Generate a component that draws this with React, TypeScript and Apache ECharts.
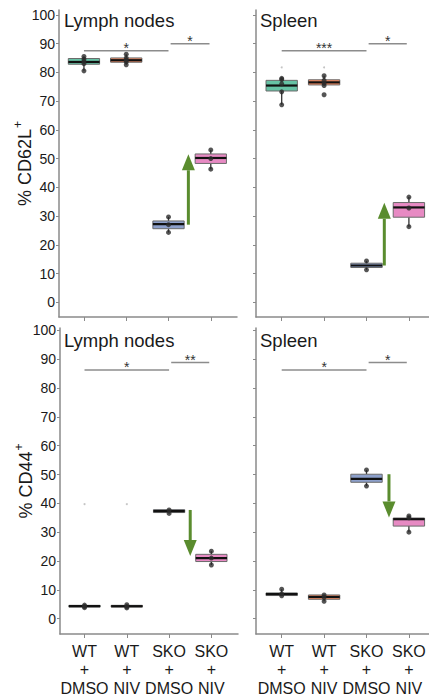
import React, { useEffect, useRef } from 'react';
import * as echarts from 'echarts';

// ---------- data ----------
const groups = ['WT\n+\nDMSO', 'WT\n+\nNIV', 'SKO\n+\nDMSO', 'SKO\n+\nNIV'];
const groupIdx = [0, 1, 2, 3];
const yTicks = [0, 10, 20, 30, 40, 50, 60, 70, 80, 90, 100];
const palette = ['#66c2a5', '#fc8d62', '#8da0cb', '#e78ac3'];

// box stats: [whiskerLow, Q1, median, Q3, whiskerHigh]
const cd62lLymphBoxes = [
  [80.5, 82.8, 83.6, 84.8, 85.5],
  [82.6, 83.5, 84.2, 85.0, 86.3],
  [24.3, 25.6, 27.2, 28.3, 29.7],
  [46.3, 48.3, 50.2, 51.6, 53.0],
];
const cd62lLymphPoints = [
  [85.5, 84.6, 83.8, 83.0, 80.5],
  [86.3, 85.0, 84.2, 83.6, 82.6],
  [29.7, 27.0, 24.3],
  [53.0, 50.0, 46.3],
];
const cd62lSpleenBoxes = [
  [68.7, 73.5, 75.4, 77.2, 77.9],
  [75.6, 75.6, 76.5, 77.4, 78.8],
  [11.3, 12.1, 12.8, 13.6, 14.4],
  [26.3, 29.6, 33.0, 34.7, 36.6],
];
const cd62lSpleenPoints = [
  [77.9, 77.5, 76.0, 73.2, 68.7],
  [78.8, 77.2, 76.2, 75.4, 72.2],
  [14.4, 11.3],
  [36.6, 32.8, 26.3],
];
const cd44LymphBoxes = [
  [3.8, 4.0, 4.3, 4.6, 4.8],
  [3.7, 4.0, 4.3, 4.6, 4.9],
  [36.4, 36.8, 37.3, 37.8, 38.0],
  [18.6, 19.8, 21.0, 22.3, 23.4],
];
const cd44LymphPoints = [
  [4.7, 4.2, 3.8],
  [4.8, 4.1, 3.7],
  [37.7, 36.5],
  [23.4, 21.0, 18.6],
];
const cd44SpleenBoxes = [
  [7.8, 8.0, 8.5, 8.9, 10.2],
  [6.0, 6.7, 7.5, 8.2, 8.3],
  [46.0, 47.3, 48.5, 50.1, 51.6],
  [30.0, 32.1, 34.5, 34.9, 35.6],
];
const cd44SpleenPoints = [
  [10.2, 8.6, 7.9],
  [8.2, 7.4, 6.0],
  [51.6, 46.0],
  [35.6, 35.0, 30.0],
];
// faint stray dots: [group, value]
const cd62lSpleenFaint = [[0, 81.7], [1, 81.7]];
const cd44LymphFaint = [[0, 39.7], [1, 39.7]];

// significance brackets: [fromGroup, toGroup, value, label]
const cd62lLymphSig = [[0, 2, 87.5, '*'], [2.05, 2.97, 89.9, '*']];
const cd62lSpleenSig = [[0, 2, 87.5, '***'], [2.05, 2.95, 89.9, '*']];
const cd44LymphSig = [[0, 2, 86.3, '*'], [2.05, 2.95, 88.9, '**']];
const cd44SpleenSig = [[0, 2, 86.3, '*'], [2.05, 2.95, 88.9, '*']];

// change arrows: [position, fromValue, toValue]
const cd62lLymphArrow = [[2.47, 27.0, 51.5]];
const cd62lSpleenArrow = [[2.42, 12.8, 34.6]];
const cd44LymphArrow = [[2.5, 37.7, 21.7]];
const cd44SpleenArrow = [[2.53, 50.1, 35.1]];

const FONT = '"Liberation Sans", Arial, sans-serif';

const panels = [
  { title: 'Lymph nodes', yName: '{m|% CD62L}{s|+}', boxes: cd62lLymphBoxes, points: cd62lLymphPoints, faint: [], sig: cd62lLymphSig, arrow: cd62lLymphArrow },
  { title: 'Spleen', yName: '', boxes: cd62lSpleenBoxes, points: cd62lSpleenPoints, faint: cd62lSpleenFaint, sig: cd62lSpleenSig, arrow: cd62lSpleenArrow },
  { title: 'Lymph nodes', yName: '{m|% CD44}{s|+}', boxes: cd44LymphBoxes, points: cd44LymphPoints, faint: cd44LymphFaint, sig: cd44LymphSig, arrow: cd44LymphArrow },
  { title: 'Spleen', yName: '', boxes: cd44SpleenBoxes, points: cd44SpleenPoints, faint: [], sig: cd44SpleenSig, arrow: cd44SpleenArrow },
];

// layout
const grids = [
  { left: 59, top: 10, width: 178, height: 307 },
  { left: 256, top: 10, width: 173, height: 307 },
  { left: 60, top: 328, width: 178, height: 306 },
  { left: 256, top: 328, width: 173, height: 306 },
];
const xRanges = [
  [-0.59, 3.62],
  [-0.606, 3.474],
  [-0.58, 3.63],
  [-0.606, 3.474],
];
const yRanges = [
  [-5.11, 101.67],
  [-5.11, 101.67],
  [-5.35, 100.85],
  [-5.35, 100.85],
];
const titlePos = [
  { left: 64, top: 11 },
  { left: 260, top: 11 },
  { left: 64, top: 331 },
  { left: 260, top: 331 },
];

function buildOption() {
  const series: any[] = [];
  const xAxis: any[] = [];
  const yAxis: any[] = [];
  const axisColor = '#8a8a8a';

  panels.forEach((p, k) => {
    const bottom = k >= 2;
    const left = k % 2 === 0;
    xAxis.push({
      type: 'value',
      gridIndex: k,
      position: 'bottom',
      min: xRanges[k][0],
      max: xRanges[k][1],
      splitLine: { show: false },
      axisLine: { show: true, onZero: false, lineStyle: { color: axisColor, width: 1.5 } },
      axisTick: { show: true, customValues: groupIdx, length: 4, lineStyle: { color: axisColor } },
      axisLabel: {
        show: bottom,
        customValues: groupIdx,
        formatter: (v: number) => groups[Math.round(v)],
        fontFamily: FONT,
        fontSize: 16,
        lineHeight: 18.5,
        color: '#1a1a1a',
        margin: 8,
      },
    });
    yAxis.push({
      type: 'value',
      gridIndex: k,
      position: 'left',
      min: yRanges[k][0],
      max: yRanges[k][1],
      splitLine: { show: false },
      axisLine: { show: true, onZero: false, lineStyle: { color: axisColor, width: 1.5 } },
      axisTick: { show: true, customValues: yTicks, length: 3, lineStyle: { color: axisColor } },
      axisLabel: {
        show: left,
        customValues: yTicks,
        fontFamily: FONT,
        fontSize: 14,
        color: '#1a1a1a',
        margin: 4,
      },
      name: p.yName,
      nameLocation: 'middle',
      nameGap: 25,
      nameMoveOverlap: false,
      nameTextStyle: {
        fontFamily: FONT,
        fontSize: 17,
        color: '#1a1a1a',
        rich: {
          m: { fontFamily: FONT, fontSize: 18, color: '#1a1a1a', lineHeight: 22, verticalAlign: 'bottom' },
          s: { fontFamily: FONT, fontSize: 12, color: '#1a1a1a', lineHeight: 22, verticalAlign: 'top', padding: [0, 0, 0, 1] },
        },
      },
    });

    // boxes
    const boxData = p.boxes.map((b, i) => [i, ...b]);
    series.push({
      type: 'custom',
      xAxisIndex: k,
      yAxisIndex: k,
      encode: { x: 0, y: [1, 2, 3, 4, 5] },
      data: boxData,
      renderItem: (params: any, api: any) => {
        const x = api.value(0);
        const pMin = api.coord([x, api.value(1)]);
        const pQ1 = api.coord([x, api.value(2)]);
        const pMed = api.coord([x, api.value(3)]);
        const pQ3 = api.coord([x, api.value(4)]);
        const pMax = api.coord([x, api.value(5)]);
        const hw = api.size([1, 0])[0] * 0.37;
        const cx = pMed[0];
        return {
          type: 'group',
          children: [
            { type: 'line', shape: { x1: cx, y1: pMax[1], x2: cx, y2: pQ3[1] }, style: { stroke: '#333', lineWidth: 1.3 } },
            { type: 'line', shape: { x1: cx, y1: pQ1[1], x2: cx, y2: pMin[1] }, style: { stroke: '#333', lineWidth: 1.3 } },
            {
              type: 'rect',
              shape: { x: cx - hw, y: pQ3[1], width: hw * 2, height: pQ1[1] - pQ3[1] },
              style: { fill: palette[params.dataIndex], stroke: '#6b6b6b', lineWidth: 1 },
            },
            { type: 'line', shape: { x1: cx - hw, y1: pMed[1], x2: cx + hw, y2: pMed[1] }, style: { stroke: '#111', lineWidth: 2.2 } },
          ],
        };
      },
      z: 2,
    });

    // points
    const ptData: number[][] = [];
    p.points.forEach((arr, i) => arr.forEach((v) => ptData.push([i, v])));
    series.push({
      type: 'scatter',
      xAxisIndex: k,
      yAxisIndex: k,
      data: ptData,
      symbolSize: 5,
      itemStyle: { color: '#2a2a2a' },
      z: 3,
    });
    if (p.faint.length) {
      series.push({
        type: 'scatter',
        xAxisIndex: k,
        yAxisIndex: k,
        data: p.faint,
        symbolSize: 2,
        itemStyle: { color: '#b5b5b5' },
        z: 3,
      });
    }

    // significance
    const sig = p.sig;
    series.push({
      type: 'custom',
      xAxisIndex: k,
      yAxisIndex: k,
      encode: { x: [0, 1], y: 2 },
      data: sig.map((s) => [s[0], s[1], s[2]]),
      renderItem: (params: any, api: any) => {
        const a = api.coord([api.value(0), api.value(2)]);
        const b = api.coord([api.value(1), api.value(2)]);
        return {
          type: 'group',
          children: [
            { type: 'line', shape: { x1: a[0], y1: a[1], x2: b[0], y2: b[1] }, style: { stroke: '#8c8c8c', lineWidth: 1.5 } },
            {
              type: 'text',
              x: (a[0] + b[0]) / 2,
              y: a[1] - 2.5,
              style: {
                text: String(sig[params.dataIndex][3]),
                fill: '#333',
                font: `14px ${FONT}`,
                align: 'center',
                verticalAlign: 'middle',
              },
            },
          ],
        };
      },
      z: 4,
    });

    // arrows
    series.push({
      type: 'custom',
      xAxisIndex: k,
      yAxisIndex: k,
      encode: { x: 0, y: [1, 2] },
      data: p.arrow,
      renderItem: (params: any, api: any) => {
        const p0 = api.coord([api.value(0), api.value(1)]);
        const p1 = api.coord([api.value(0), api.value(2)]);
        const dir = p1[1] < p0[1] ? -1 : 1;
        const headLen = 16;
        const hw = 6.5;
        const baseY = p1[1] - dir * headLen;
        const color = '#5a8c2e';
        return {
          type: 'group',
          children: [
            { type: 'line', shape: { x1: p0[0], y1: p0[1], x2: p0[0], y2: baseY }, style: { stroke: color, lineWidth: 3 } },
            {
              type: 'polygon',
              shape: { points: [[p1[0] - hw, baseY], [p1[0] + hw, baseY], [p1[0], p1[1]]] },
              style: { fill: color },
            },
          ],
        };
      },
      z: 4,
    });
  });

  const graphic = panels.map((p, k) => ({
    type: 'text',
    left: titlePos[k].left,
    top: titlePos[k].top,
    style: { text: p.title, font: `18.5px ${FONT}`, fill: '#1a1a1a' },
  }));

  return {
    animation: false,
    backgroundColor: '#ffffff',
    grid: grids.map((g) => ({ ...g, containLabel: false })),
    xAxis,
    yAxis,
    series,
    graphic,
  };
}

export default function App() {
  const ref = useRef<HTMLDivElement>(null);
  useEffect(() => {
    if (!ref.current) return;
    const chart = echarts.init(ref.current, undefined, { renderer: 'svg' });
    chart.setOption(buildOption() as any);
    return () => chart.dispose();
  }, []);
  return <div ref={ref} style={{ position: 'fixed', left: 0, top: 0, width: 429, height: 700 }} />;
}
